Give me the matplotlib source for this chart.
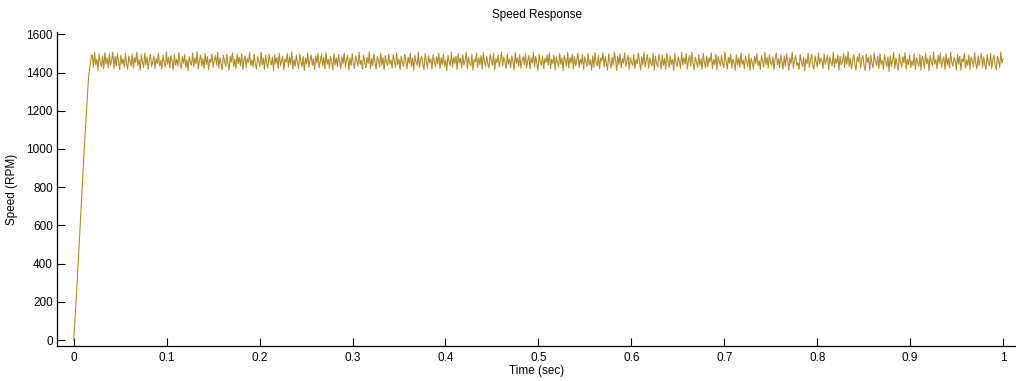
import numpy as np
import matplotlib.pyplot as plt

# start-up ramp (sec, RPM)
t_ramp = [0.0, 0.004, 0.008, 0.012, 0.016, 0.019]
speed_ramp = [0, 330, 700, 1060, 1380, 1490]

# steady-state speed (RPM), 0.02 .. 1.0 sec
speed_ss = [
    1492, 1428, 1505, 1441, 1470, 1412, 1498, 1452, 1430, 1487, 1419, 1503, 1446, 1475, 1425, 1496, 1438, 1462, 1508, 1421,
    1484, 1433, 1499, 1457, 1416, 1490, 1444, 1472, 1427, 1501, 1449, 1418, 1486, 1460, 1435, 1497, 1423, 1479, 1451, 1506,
    1437, 1468, 1410, 1493, 1455, 1426, 1502, 1440, 1481, 1415, 1466, 1495, 1431, 1458, 1488, 1420, 1474, 1447, 1500, 1434,
    1463, 1417, 1491, 1453, 1429, 1507, 1443, 1478, 1424, 1489, 1458, 1413, 1497, 1439, 1471, 1432, 1504, 1450, 1422, 1485,
    1448, 1494, 1426, 1467, 1411, 1483, 1456, 1436, 1502, 1429, 1476, 1445, 1509, 1418, 1461, 1492, 1434, 1473, 1420, 1499,
    1441, 1482, 1415, 1470, 1452, 1497, 1427, 1464, 1489, 1438, 1506, 1423, 1477, 1444, 1414, 1490, 1459, 1431, 1495, 1448,
    1412, 1487, 1455, 1503, 1430, 1469, 1421, 1494, 1446, 1480, 1435, 1500, 1417, 1462, 1488, 1426, 1474, 1451, 1505, 1437,
    1466, 1428, 1498, 1443, 1419, 1485, 1457, 1432, 1507, 1440, 1475, 1416, 1491, 1450, 1424, 1496, 1463, 1439, 1482, 1410,
    1493, 1447, 1478, 1422, 1501, 1436, 1460, 1486, 1413, 1471, 1454, 1499, 1429, 1481, 1442, 1508, 1418, 1467, 1433, 1490,
    1452, 1420, 1497, 1458, 1431, 1484, 1411, 1476, 1445, 1503, 1427, 1465, 1492, 1438, 1472, 1415, 1488, 1449, 1500, 1425,
    1461, 1494, 1434, 1479, 1418, 1505, 1443, 1470, 1423, 1486, 1456, 1414, 1498, 1440, 1477, 1430, 1495, 1453, 1419, 1483,
    1446, 1502, 1428, 1468, 1490, 1412, 1474, 1437, 1499, 1450, 1421, 1487, 1459, 1433, 1506, 1442, 1464, 1416, 1492, 1455,
    1425, 1481, 1447, 1509, 1420, 1473, 1436, 1496, 1451, 1417, 1484, 1462, 1430, 1500, 1439, 1478, 1413, 1489, 1457, 1435,
    1497, 1444, 1466, 1422, 1493, 1458, 1427, 1504, 1441, 1470, 1415, 1486, 1452, 1431, 1495, 1463, 1419, 1480, 1448, 1501,
    1432, 1475, 1411, 1491, 1454, 1438, 1507, 1426, 1468, 1485, 1443, 1414, 1499, 1460, 1424, 1488, 1450, 1472, 1418, 1494,
    1459, 1429, 1483, 1445, 1502, 1421, 1476, 1440, 1497, 1433, 1465, 1410, 1490, 1456, 1436, 1505, 1428, 1479, 1447, 1486,
    1416, 1498, 1451, 1474, 1425, 1493, 1439, 1461, 1508, 1420, 1482, 1449, 1434, 1496, 1412, 1469, 1455, 1500, 1427, 1478,
    1442, 1489, 1418, 1503, 1457, 1431, 1485, 1446, 1423, 1495, 1466, 1437, 1501, 1414, 1472, 1452, 1491, 1429, 1464, 1506,
    1435, 1480, 1454, 1419, 1497, 1443, 1471, 1426, 1488, 1459, 1413, 1504, 1448, 1477, 1432, 1494, 1422, 1467, 1483, 1440,
    1499, 1424, 1462, 1490, 1417, 1476, 1450, 1507, 1430, 1484, 1445, 1411, 1496, 1458, 1436, 1487, 1420, 1473, 1453, 1492,
    1438, 1503, 1421, 1469, 1447, 1492, 1415, 1481, 1456, 1428, 1500, 1443, 1475, 1410, 1489, 1462, 1433, 1507, 1424, 1478,
    1450, 1496, 1419, 1485, 1437, 1463, 1502, 1426, 1471, 1444, 1494, 1416, 1482, 1458, 1431, 1499, 1440, 1467, 1412, 1488,
    1427, 1505, 1452, 1434, 1491, 1418, 1476, 1460, 1501, 1429, 1484, 1446, 1413, 1497, 1455, 1423, 1480, 1439, 1508, 1466,
    1411, 1487, 1442, 1498, 1425, 1473, 1449, 1504, 1432, 1461, 1490, 1417, 1479, 1453, 1436, 1495, 1420, 1470, 1445, 1502,
    1458, 1414, 1483, 1440, 1506, 1428, 1465, 1493, 1422, 1477, 1451, 1435, 1499, 1412, 1486, 1448, 1429, 1496, 1463, 1419,
    1492, 1436, 1474, 1416, 1501, 1457, 1426, 1488, 1443, 1469, 1410, 1497, 1454, 1431, 1483, 1460, 1421, 1505, 1439, 1477,
    1445, 1499, 1418, 1464, 1490, 1433, 1507, 1449, 1414, 1481, 1456, 1427, 1494, 1438, 1472, 1415, 1500, 1452, 1424, 1486,
    1430, 1478, 1455, 1503, 1420, 1467, 1441, 1496, 1413, 1484, 1459, 1434, 1491, 1446, 1425, 1508, 1462, 1417, 1480, 1448,
    1497, 1423, 1470, 1451, 1412, 1493, 1439, 1476, 1428, 1502, 1444, 1466, 1419, 1487, 1457, 1432, 1498, 1411, 1474, 1453,
    1419, 1485, 1447, 1500, 1435, 1462, 1416, 1490, 1458, 1429, 1505, 1442, 1479, 1424, 1495, 1450, 1437, 1483, 1414, 1468,
    1504, 1440, 1473, 1426, 1492, 1455, 1418, 1486, 1433, 1499, 1461, 1413, 1477, 1448, 1507, 1422, 1466, 1489, 1436, 1452,
    1415, 1494, 1458, 1431, 1482, 1410, 1471, 1446, 1501, 1427, 1463, 1496, 1437, 1418, 1488, 1454, 1429, 1503, 1444, 1475,
    1460, 1421, 1498, 1442, 1467, 1491, 1414, 1480, 1453, 1434, 1506, 1425, 1472, 1449, 1493, 1412, 1484, 1439, 1457, 1500,
    1426, 1487, 1444, 1509, 1430, 1476, 1419, 1462, 1495, 1441, 1413, 1481, 1456, 1500, 1423, 1468, 1489, 1435, 1410, 1497,
    1451, 1479, 1413, 1490, 1447, 1424, 1502, 1459, 1436, 1485, 1420, 1497, 1443, 1465, 1417, 1493, 1455, 1430, 1482, 1406,
    1488, 1432, 1463, 1505, 1421, 1474, 1445, 1411, 1496, 1457, 1428, 1483, 1450, 1504, 1418, 1470, 1440, 1492, 1425, 1461,
    1437, 1499, 1416, 1478, 1454, 1431, 1494, 1412, 1486, 1465, 1422, 1501, 1446, 1473, 1409, 1489, 1458, 1434, 1506, 1443,
    1469, 1420, 1491, 1448, 1503, 1427, 1460, 1483, 1415, 1497, 1439, 1475, 1424, 1508, 1452, 1433, 1480, 1461, 1414, 1494,
    1444, 1486, 1412, 1471, 1456, 1499, 1423, 1466, 1438, 1492, 1417, 1481, 1459, 1429, 1504, 1447, 1419, 1487, 1435, 1476,
    1498, 1428, 1482, 1441, 1416, 1495, 1453, 1434, 1500, 1421, 1467, 1490, 1440, 1413, 1485, 1462, 1426, 1507, 1449, 1472,
]
t_ss = np.linspace(0.02, 1.0, len(speed_ss))

t = np.concatenate([t_ramp, t_ss])
speed = np.concatenate([speed_ramp, speed_ss])

xticks = [0, 0.1, 0.2, 0.3, 0.4, 0.5, 0.6, 0.7, 0.8, 0.9, 1]
xticklabels = ['0', '0.1', '0.2', '0.3', '0.4', '0.5', '0.6', '0.7', '0.8', '0.9', '1']
yticks = [0, 200, 400, 600, 800, 1000, 1200, 1400, 1600]

plt.rcParams['font.family'] = ['Liberation Sans', 'DejaVu Sans']

fig = plt.figure(figsize=(10.16, 3.81), dpi=100)
ax = fig.add_axes([0.0561, 0.092, 0.944, 0.824])
ax.plot(t, speed, color='#B08D2A', linewidth=0.8)

ax.set_xlim(-0.018, 1.014)
ax.set_ylim(-31, 1612)
ax.set_xticks(xticks)
ax.set_xticklabels(xticklabels)
ax.set_yticks(yticks)
ax.tick_params(direction='in', length=6, width=0.8, labelsize=8.5, colors='black')
ax.tick_params(axis='x', pad=4)
ax.tick_params(axis='y', pad=3)
for s in ['top', 'right']:
    ax.spines[s].set_visible(False)
for s in ['left', 'bottom']:
    ax.spines[s].set_linewidth(0.9)

ax.set_xlabel('Time (sec)', fontsize=8.5, labelpad=1)
ax.set_ylabel('Speed (RPM)', fontsize=8.5, labelpad=6)
ax.set_title('Speed Response', fontsize=8.5, pad=10)

fig.savefig('out.png', dpi=100)
